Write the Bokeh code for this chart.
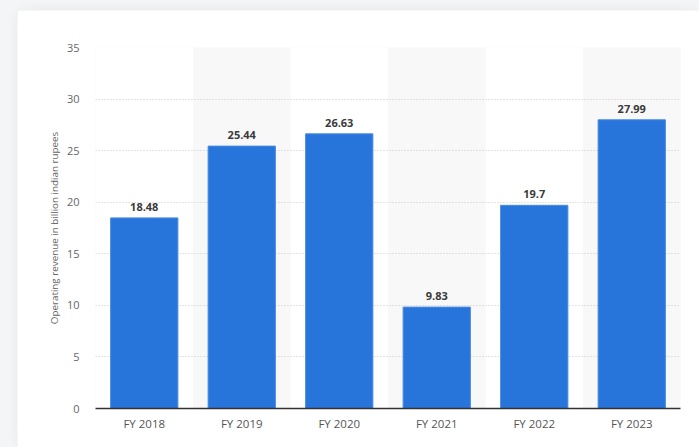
from bokeh.plotting import figure
from bokeh.layouts import column
from bokeh.models import Range1d, ColumnDataSource, FixedTicker
from bokeh.core.properties import value
from bokeh.embed import file_html
from bokeh.resources import INLINE

categories = ["FY 2018", "FY 2019", "FY 2020", "FY 2021", "FY 2022", "FY 2023"]
revenue = [18.48, 25.44, 26.63, 9.83, 19.7, 27.99]
value_labels = ["18.48", "25.44", "26.63", "9.83", "19.7", "27.99"]
y_ticks = [0, 5, 10, 15, 20, 25, 30, 35]
y_label = "Operating revenue in billion indian rupees"

FONT = "Open Sans"

p = figure(x_range=categories, y_range=Range1d(0, 35),
           width=682, height=437, output_backend="svg", toolbar_location=None,
           min_border_left=78, min_border_right=19, min_border_top=37, min_border_bottom=39,
           margin=(10, 0, 0, 17),
           styles={"border-radius": "8px", "box-shadow": "0 0 12px rgba(0,0,0,0.06)"})
p.background_fill_color = "white"
p.border_fill_color = "white"
p.outline_line_color = None

# alternating column bands
band_cats = [c for i, c in enumerate(categories) if i % 2 == 1]
bands = p.vbar(x=band_cats, top=[35] * len(band_cats), bottom=0, width=1.0,
               fill_color="#f8f8f8", line_color=None)
bands.level = "image"

src = ColumnDataSource(dict(x=categories, top=revenue, lab=value_labels))
p.vbar(x="x", top="top", width=0.69, source=src, fill_color="#2775db",
       line_color="#4a8be0", line_width=1)
p.text(x="x", y="top", text="lab", source=src, text_align="center",
       text_baseline="bottom", y_offset=-7, text_font=value(FONT),
       text_font_size="11px", text_font_style="bold", text_color="#3a3a3a")

# grid
p.xgrid.grid_line_color = None
p.ygrid.grid_line_color = "#c8c8c8"
p.ygrid.grid_line_dash = "1 2"
p.ygrid.grid_line_width = 1

# y axis
p.yaxis.ticker = FixedTicker(ticks=y_ticks)
p.yaxis.axis_line_color = None
p.yaxis.major_tick_line_color = None
p.yaxis.minor_tick_line_color = None
p.yaxis.major_label_standoff = 10
p.yaxis.major_label_text_font = FONT
p.yaxis.major_label_text_font_size = "11px"
p.yaxis.major_label_text_color = "#666666"
p.yaxis.axis_label = y_label
p.yaxis.axis_label_text_font = FONT
p.yaxis.axis_label_text_font_size = "9.8px"
p.yaxis.axis_label_text_font_style = "normal"
p.yaxis.axis_label_text_color = "#666666"
p.yaxis.axis_label_standoff = 3

# x axis
p.xaxis.axis_line_color = "#333333"
p.xaxis.axis_line_width = 1.5
p.xaxis.major_tick_line_color = None
p.xaxis.minor_tick_line_color = None
p.xaxis.major_label_standoff = 1
p.xaxis.major_label_text_font = FONT
p.xaxis.major_label_text_font_size = "11.5px"
p.xaxis.major_label_text_color = "#555555"

layout = column(p, width=699, height=447, styles={"background-color": "#f4f5f7"})

open("out.html", "w").write(file_html(layout, INLINE))
